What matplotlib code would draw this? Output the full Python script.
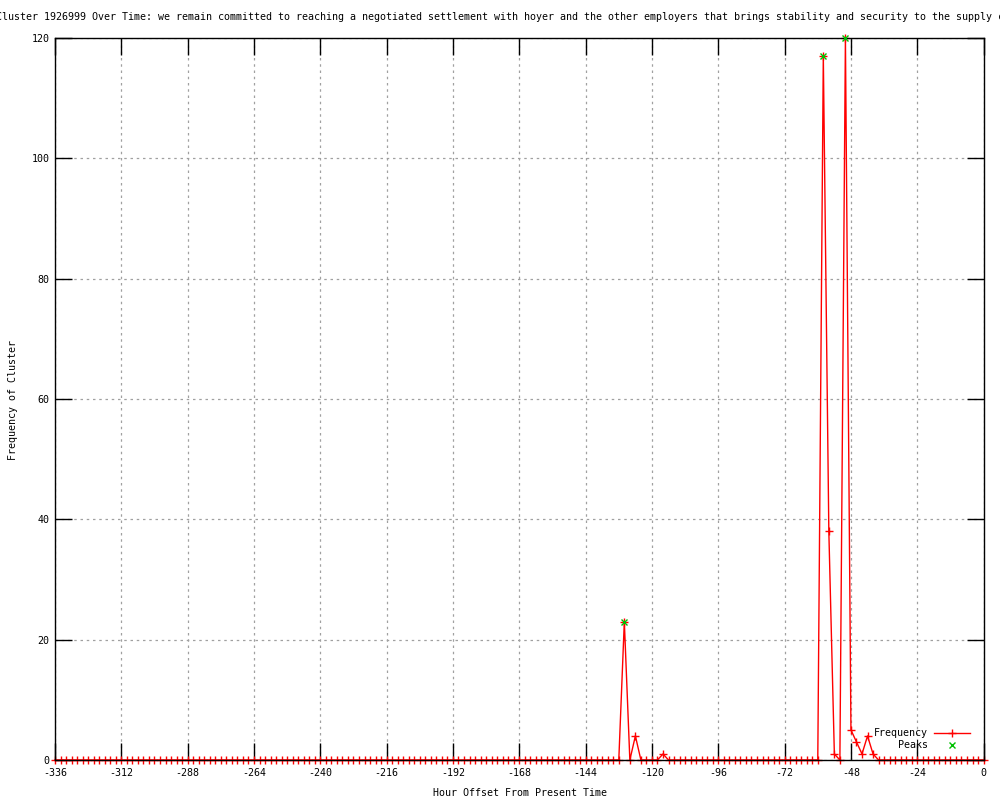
import numpy as np
import matplotlib
matplotlib.use("Agg")
import matplotlib.pyplot as plt
from matplotlib.lines import Line2D

# ---- data ----
hours = np.arange(-336, 1, 2)  # hour offsets, 2-hour bins
frequency = [
    0, 0, 0, 0, 0, 0, 0, 0, 0, 0, 0, 0,
    0, 0, 0, 0, 0, 0, 0, 0, 0, 0, 0, 0,
    0, 0, 0, 0, 0, 0, 0, 0, 0, 0, 0, 0,
    0, 0, 0, 0, 0, 0, 0, 0, 0, 0, 0, 0,
    0, 0, 0, 0, 0, 0, 0, 0, 0, 0, 0, 0,
    0, 0, 0, 0, 0, 0, 0, 0, 0, 0, 0, 0,
    0, 0, 0, 0, 0, 0, 0, 0, 0, 0, 0, 0,
    0, 0, 0, 0, 0, 0, 0, 0, 0, 0, 0, 0,
    0, 0, 0, 0, 0, 0, 0, 23, 0, 4, 0, 0,
    0, 0, 1, 0, 0, 0, 0, 0, 0, 0, 0, 0,
    0, 0, 0, 0, 0, 0, 0, 0, 0, 0, 0, 0,
    0, 0, 0, 0, 0, 0, 0, 117, 38, 1, 0, 120,
    5, 3, 1, 4, 1, 0, 0, 0, 0, 0, 0, 0,
    0, 0, 0, 0, 0, 0, 0, 0, 0, 0, 0, 0,
    0,
]
peak_hours = [-130, -58, -50]
peak_values = [23, 117, 120]
x_ticks = list(range(-336, 1, 24))
y_ticks = list(range(0, 121, 20))

title = ("Cluster 1926999 Over Time: we remain committed to reaching a negotiated "
         "settlement with hoyer and the other employers that brings stability and "
         "security to the supply chain")

FONT = "DejaVu Sans Mono"
FS = 7.2
plt.rcParams["font.family"] = FONT
plt.rcParams["font.size"] = FS
plt.rcParams["axes.unicode_minus"] = False

fig = plt.figure(figsize=(10, 8), dpi=100)
ax = fig.add_axes([0.055, 0.05, 0.9286, 0.9025])

ax.plot(hours, frequency, color="red", lw=1.0, marker="+", ms=6, mew=1.0,
        clip_on=False, zorder=2)
ax.plot(peak_hours, peak_values, linestyle="none", color="#00c000", marker="x",
        ms=5, mew=1.0, clip_on=False, zorder=3)

ax.set_xlim(-336, 0)
ax.set_ylim(0, 120)
ax.set_xticks(x_ticks)
ax.set_yticks(y_ticks)
ax.grid(True, color="#a0a0a0", linestyle=(0, (2, 3)), lw=0.9)
ax.tick_params(direction="in", length=12, width=1, top=True, right=True,
               labelsize=FS, colors="black")
ax.tick_params(axis="x", pad=6)
ax.tick_params(axis="y", pad=4)
for s in ax.spines.values():
    s.set_linewidth(1.0)
    s.set_color("black")
    s.set_zorder(2.5)

fig.text(-0.004, 1 - 17 / 800, title, ha="left", va="center", fontsize=FS)
fig.text(0.52, 1 - 793 / 800, "Hour Offset From Present Time", ha="center",
         va="center", fontsize=FS)
fig.text(0.013, 0.5, "Frequency of Cluster", rotation=90, ha="center",
         va="center", fontsize=FS)

handles = [Line2D([], [], color="red", lw=1.0, marker="+", ms=6, mew=1.0),
           Line2D([], [], linestyle="none", color="#00c000", marker="x", ms=5,
                  mew=1.0)]
ax.legend(handles, ["Frequency", "Peaks"], loc="lower right",
          bbox_to_anchor=(0.992, 0.005), frameon=False, markerfirst=False,
          handlelength=3.6, handletextpad=0.6, labelspacing=0.2,
          fontsize=FS, borderaxespad=0.2)

fig.savefig("out.png", dpi=100)
